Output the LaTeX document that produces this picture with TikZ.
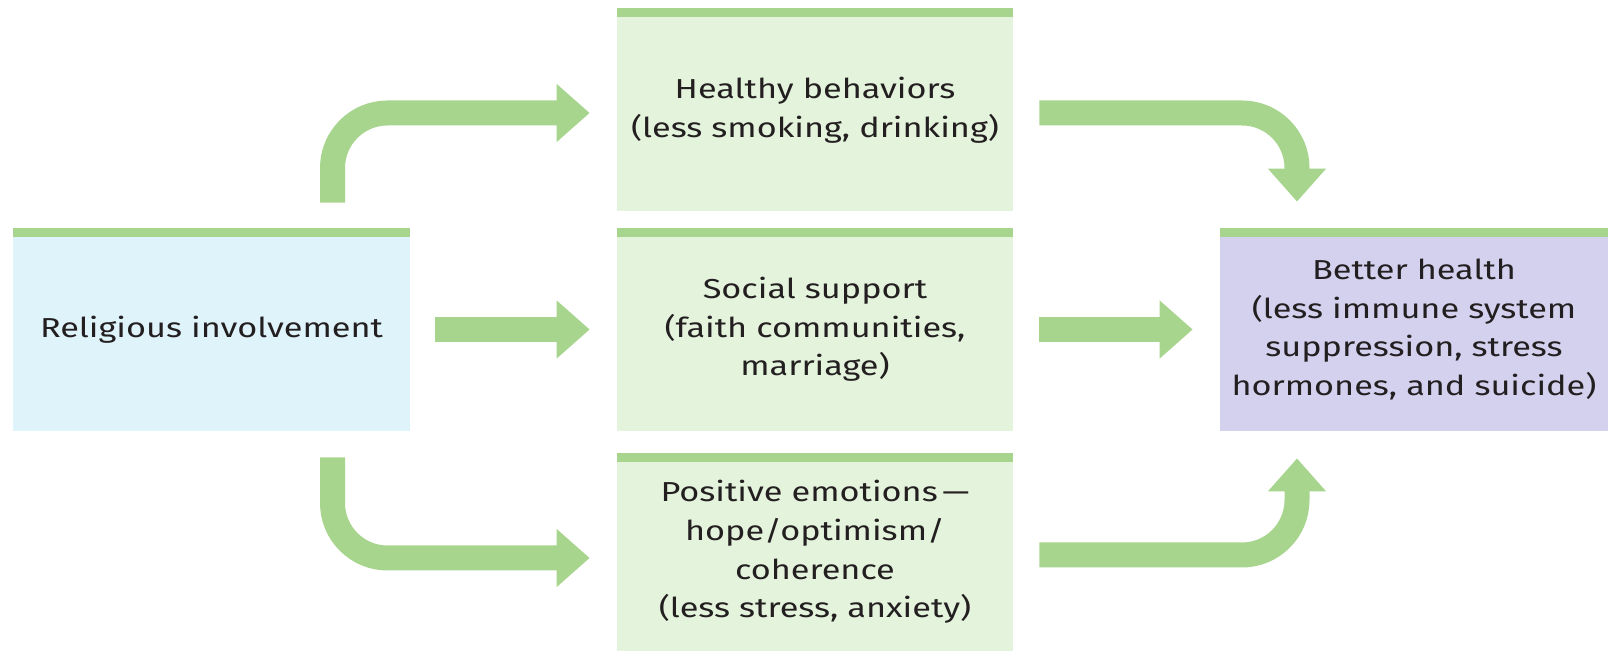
\documentclass[tikz,border=0pt]{standalone}
\usepackage{fontspec}
\setmainfont{Fira Sans}[FakeStretch=1.25]
\usetikzlibrary{arrows.meta,positioning}

\definecolor{bargreen}{RGB}{168,213,142}
\definecolor{boxgreen}{RGB}{228,243,220}
\definecolor{boxblue}{RGB}{223,243,251}
\definecolor{boxlilac}{RGB}{211,209,238}
\definecolor{inkgray}{RGB}{35,31,32}

\begin{document}
\begin{tikzpicture}[
		stage/.style={rectangle,inner sep=0pt,minimum width=7.92cm,minimum height=4.06cm,
			align=center,text=inkgray,font=\fontsize{15.6}{22}\selectfont},
		flow/.style={draw=bargreen,line width=0.5cm,rounded corners=1.1cm,
			-{Triangle[length=0.66cm,width=1.12cm]}}
	]
		\useasboundingbox (0,0) rectangle (32.16,13.02);
		
		% the five boxes
		\node[stage,fill=boxblue,minimum width=7.94cm] (rel) at (4.23,6.43) {Religious involvement};
		\node[stage,fill=boxgreen] (hb) at (16.3,10.82) {Healthy behaviors\\(less smoking, drinking)};
		\node[stage,fill=boxgreen] (ss) at (16.3,6.43) {Social support\\(faith communities,\\marriage)};
		\node[stage,fill=boxgreen,minimum height=3.96cm] (pe) at (16.3,1.98) {Positive emotions\,\textemdash\\hope/optimism/\\coherence\\(less stress, anxiety)};
		\node[stage,fill=boxlilac,minimum width=7.76cm] (bh) at (28.28,6.43) {Better health\\(less immune system\\suppression, stress\\hormones, and suicide)};
		
		% green bar on top of every box
		\foreach \n in {rel,hb,ss,pe,bh} {
			\fill[bargreen] (\n.north west) rectangle ([yshift=-0.18cm]\n.north east);
		}
		
		% arrows out of religious involvement
		\draw[flow] ([xshift=2.42cm,yshift=0.5cm]rel.north) |- ([xshift=-0.54cm,yshift=-0.06cm]hb.west);
		\draw[flow] ([xshift=0.5cm]rel.east) -- ([xshift=-0.54cm]ss.west);
		\draw[flow] ([xshift=2.42cm,yshift=-0.52cm]rel.south) |- ([xshift=-0.54cm,yshift=-0.12cm]pe.west);
		
		% arrows into better health
		\draw[flow] ([xshift=0.52cm,yshift=-0.06cm]hb.east) -| ([xshift=-2.34cm,yshift=0.52cm]bh.north);
		\draw[flow] ([xshift=0.52cm]ss.east) -- ([xshift=-0.54cm]bh.west);
		\draw[flow] ([xshift=0.52cm,yshift=-0.06cm]pe.east) -| ([xshift=-2.34cm,yshift=-0.54cm]bh.south);
\end{tikzpicture}
\end{document}
